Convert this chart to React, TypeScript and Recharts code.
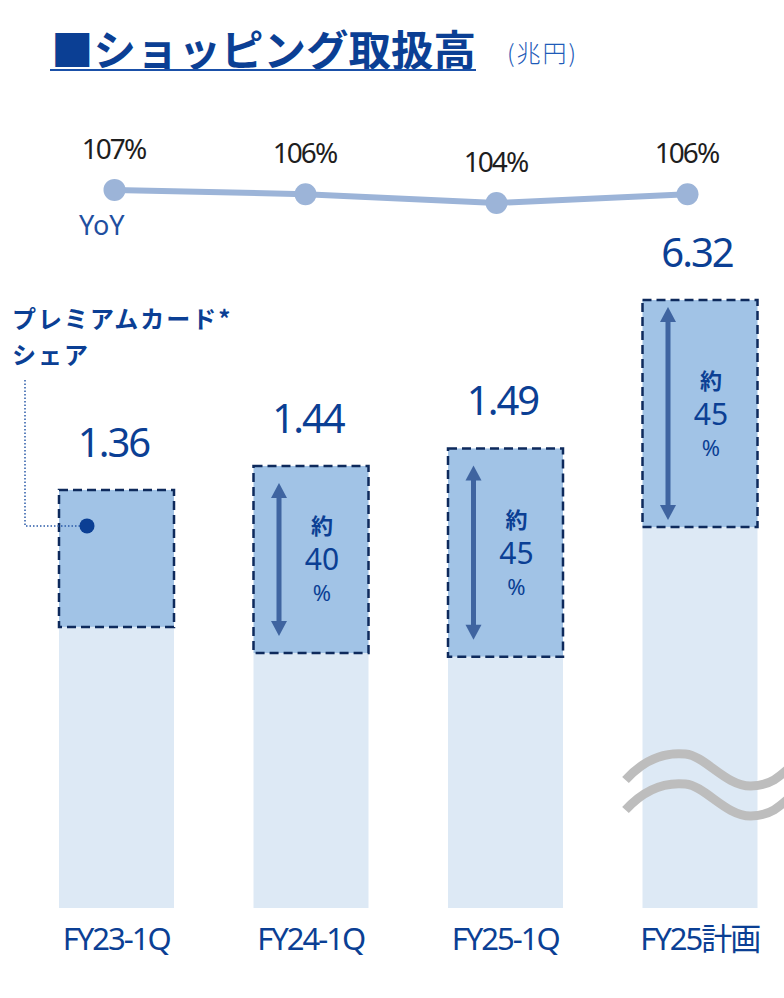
import { Bar, ComposedChart, LabelList, Line, XAxis, YAxis } from 'recharts'

const categories = ['FY23-1Q', 'FY24-1Q', 'FY25-1Q', 'FY25計画']
// 取扱高（兆円）
const totalLabels = ['1.36', '1.44', '1.49', '6.32']
// bar heights on the drawn scale; FY25計画 is drawn with a broken axis
const baseValues = [0.915, 0.83, 0.818, 1.24]
const premiumValues = [0.446, 0.609, 0.678, 0.739]
const premiumShare = ['', '40', '45', '45']
const yoyValues = [107, 106, 104, 106]

const BLUE = '#0b3f94'
const FONT = '"Noto Sans", "Noto Sans CJK JP", sans-serif'
const JP_FONT = '"Noto Sans CJK JP", sans-serif'

const chartData = categories.map((name, i) => ({
    name,
    base: baseValues[i],
    premium: premiumValues[i],
    total: totalLabels[i],
    share: premiumShare[i],
    yoy: yoyValues[i],
}))

function BaseShape(props: any) {
    const { x, y, width, height, index } = props
    const bottom = y + height
    return (
        <g>
            <rect x={x} y={y} width={width} height={height} fill="#dde9f5" />
            {index === 3 && (
                <g fill="none" stroke="#bdbdbd" strokeWidth={9}>
                    {[0, 30].map((d) => (
                        <path
                            key={d}
                            d={`M${x - 17},${bottom - 128 + d} C${x + 3},${bottom - 150 + d} ${x + 23},${bottom - 156 + d} ${x + 43},${bottom - 154 + d} S${x + 83},${bottom - 122 + d} ${x + 108},${bottom - 122 + d} S${x + 143},${bottom - 138 + d} ${x + 160},${bottom - 152 + d}`}
                        />
                    ))}
                </g>
            )}
        </g>
    )
}

function PremiumShape(props: any) {
    const { x, y, width, height, index, payload } = props
    const share = payload?.share
    const cx = x + width / 2 + 11
    const cy = y + height / 2
    const ax = x + 25.5
    const inset = index === 3 ? 7 : 17
    const top = y + inset
    const bot = y + height - inset
    return (
        <g>
            <rect
                x={x}
                y={y}
                width={width}
                height={height}
                fill="#a1c3e6"
                stroke="#0e2a5c"
                strokeWidth={2.5}
                strokeDasharray="9 5"
            />
            {share ? (
                <g>
                    <line x1={ax} x2={ax} y1={top + 12} y2={bot - 12} stroke="#3f64a0" strokeWidth={5} />
                    <path d={`M${ax},${top} L${ax + 8},${top + 15} L${ax - 8},${top + 15} Z`} fill="#3f64a0" />
                    <path d={`M${ax},${bot} L${ax + 8},${bot - 15} L${ax - 8},${bot - 15} Z`} fill="#3f64a0" />
                    <text x={cx} y={cy - 25} textAnchor="middle" fill={BLUE} fontSize={22} fontWeight={700} fontFamily={JP_FONT}>約</text>
                    <text x={cx} y={cy + 11} textAnchor="middle" fill={BLUE} fontSize={30} fontFamily={FONT}>{share}</text>
                    <text x={cx} y={cy + 42} textAnchor="middle" fill={BLUE} fontSize={22} fontFamily={FONT}>%</text>
                </g>
            ) : null}
            {index === 0 && (
                <g>
                    <polyline
                        points={`${x - 34},${y - 110} ${x - 34},${y + 36} ${x + 28},${y + 36}`}
                        fill="none"
                        stroke="#2a5aa8"
                        strokeWidth={1.5}
                        strokeDasharray="1.5 2"
                    />
                    <circle cx={x + 28} cy={y + 36} r={7.5} fill={BLUE} />
                </g>
            )}
        </g>
    )
}

function TotalLabel(props: any) {
    const { x, y, width, value } = props
    return (
        <text x={x + width / 2 - 3} y={y - 33} textAnchor="middle" fill={BLUE} fontSize={40} letterSpacing={-2} fontFamily={FONT}>
            {value}
        </text>
    )
}

function YoyLabel(props: any) {
    const { x, y, value } = props
    return (
        <text x={x - 1} y={y - 31} textAnchor="middle" fill="#1e1e1e" fontSize={28} letterSpacing={-2} fontFamily={FONT}>
            {`${value}%`}
        </text>
    )
}

function CategoryTick(props: any) {
    const { x, y, payload } = props
    return (
        <text x={x} y={y} dy={34} textAnchor="middle" fill={BLUE} fontSize={31} letterSpacing={-2} fontFamily={FONT}>
            {payload.value}
        </text>
    )
}

export default function App() {
    return (
        <div style={{ position: 'absolute', left: 0, top: 0, width: 784, height: 998, background: '#fff' }}>
            <ComposedChart
                width={784}
                height={998}
                data={chartData}
                margin={{ top: 140, right: -13, bottom: 30, left: 19 }}
            >
                <XAxis dataKey="name" height={60} axisLine={false} tickLine={false} tick={<CategoryTick />} interval={0} />
                <XAxis xAxisId="line" dataKey="name" hide padding={{ left: 0, right: 14 }} />
                <YAxis hide domain={[0, 2.5]} />
                <YAxis yAxisId="line" hide domain={[-58.5, 118.5]} />
                <Bar dataKey="base" stackId="a" barSize={115} shape={<BaseShape />} isAnimationActive={false} />
                <Bar dataKey="premium" stackId="a" barSize={115} shape={<PremiumShape />} isAnimationActive={false}>
                    <LabelList dataKey="total" content={<TotalLabel />} />
                </Bar>
                <Line
                    xAxisId="line"
                    yAxisId="line"
                    dataKey="yoy"
                    stroke="#9cb4d8"
                    strokeWidth={6}
                    dot={{ r: 11, fill: '#9cb4d8', stroke: 'none' }}
                    activeDot={false}
                    isAnimationActive={false}
                >
                    <LabelList dataKey="yoy" content={<YoyLabel />} />
                </Line>
            </ComposedChart>
            <svg width={784} height={998} style={{ position: 'absolute', left: 0, top: 0, pointerEvents: 'none' }}>
                <text x={51} y={66} fill={BLUE} fontSize={42.5} fontWeight={700} fontFamily={JP_FONT}>■ショッピング取扱高</text>
                <line x1={50} x2={476} y1={70} y2={70} stroke="#1a50a8" strokeWidth={2} />
                <text x={507} y={62} fill="#1e5bb8" fontSize={24} fontWeight={300} letterSpacing={2} fontFamily={JP_FONT}>(兆円)</text>
                <text x={12} y={328} fill={BLUE} fontSize={24} fontWeight={700} letterSpacing={2} fontFamily={JP_FONT}>プレミアムカード*</text>
                <text x={12} y={364} fill={BLUE} fontSize={24} fontWeight={700} letterSpacing={2} fontFamily={JP_FONT}>シェア</text>
                <text x={79} y={235} fill="#1f4fa0" fontSize={27} fontFamily={FONT}>YoY</text>
            </svg>
        </div>
    )
}
